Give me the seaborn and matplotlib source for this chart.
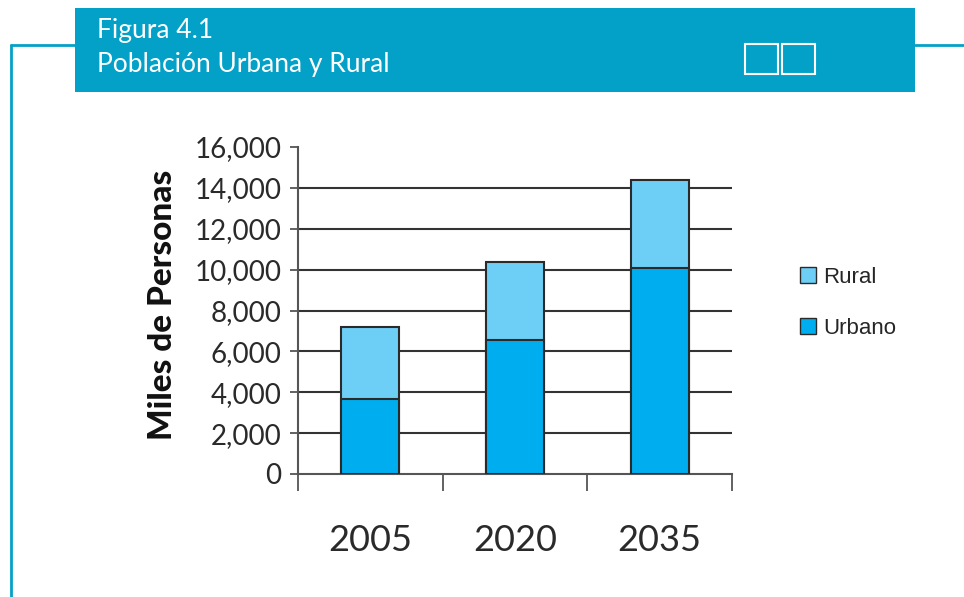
import matplotlib
matplotlib.use('Agg')
import matplotlib.pyplot as plt
from matplotlib.patches import Rectangle, Patch
from matplotlib.lines import Line2D
import seaborn as sns
import pandas as pd

# datos (miles de personas)
anios = ['2005', '2020', '2035']
urbano = [3650, 6550, 10100]
rural = [3550, 3800, 4280]
yticks = [0, 2000, 4000, 6000, 8000, 10000, 12000, 14000, 16000]

COL_URB = '#00AEEF'
COL_RUR = '#6DCFF6'
COL_HEAD = '#03A1C8'
EDGE = '#2a2a2a'

sns.set_theme(style='white')
plt.rcParams['font.family'] = ['Lato', 'DejaVu Sans']

df = pd.DataFrame({'anio': anios, 'Urbano': urbano, 'Rural': rural})
df['Total'] = df['Urbano'] + df['Rural']

fig = plt.figure(figsize=(9.64, 5.97), dpi=100)
ax = fig.add_axes([298 / 964, 1 - 474 / 597, 434 / 964, 327 / 597])

# gridlines first (behind bars)
for v in yticks[1:-1]:
    ax.axhline(v, color='#333333', lw=1.5, zorder=0)

sns.barplot(data=df, x='anio', y='Total', color=COL_RUR, width=0.4,
            edgecolor=EDGE, linewidth=1.5, saturation=1, ax=ax, zorder=2)
sns.barplot(data=df, x='anio', y='Urbano', color=COL_URB, width=0.4,
            edgecolor=EDGE, linewidth=1.5, saturation=1, ax=ax, zorder=3)

ax.set_xlim(-0.5, 2.5)
ax.set_ylim(0, 16000)
ax.set_yticks(yticks)
ax.set_yticklabels([f'{v:,}' for v in yticks], fontsize=20, color='#2a2a2a')
ax.tick_params(axis='y', left=True, length=6, width=1.3, color='#555555', pad=6)

ax.set_xticks(range(len(anios)))
ax.set_xticklabels(anios, fontsize=26, color='#2a2a2a')
ax.set_xticks([-0.5, 0.5, 1.5, 2.5], minor=True)
ax.tick_params(axis='x', which='major', length=0, pad=36)
ax.tick_params(axis='x', which='minor', bottom=True, length=12, width=1.3, color='#555555')

ax.set_xlabel('')
ax.set_ylabel('')
fig.text(162 / 964, 1 - 305 / 597, 'Miles de Personas', rotation=90, ha='center',
         va='center', fontsize=24, fontweight='black', color='#111111')

for s in ['top', 'right']:
    ax.spines[s].set_visible(False)
for s in ['left', 'bottom']:
    ax.spines[s].set_color('#555555')
    ax.spines[s].set_linewidth(1.5)

handles = [Patch(facecolor=COL_RUR, edgecolor=EDGE, label='Rural'),
           Patch(facecolor=COL_URB, edgecolor=EDGE, label='Urbano')]
fig.legend(handles=handles, loc='center left', bbox_to_anchor=(800 / 964, 1 - 303 / 597),
           frameon=False, prop={'family': 'Liberation Sans', 'size': 16},
           handlelength=0.7, handleheight=0.7, handletextpad=0.35, labelspacing=1.35,
           borderpad=0, borderaxespad=0)

# encabezado
fig.patches.append(Rectangle((75 / 964, 1 - 92 / 597), 840 / 964, 84 / 597,
                             transform=fig.transFigure, facecolor=COL_HEAD,
                             edgecolor='none', zorder=1))
for x0 in [745, 782]:
    fig.patches.append(Rectangle((x0 / 964, 1 - 74 / 597), 33 / 964, 30 / 597,
                                 transform=fig.transFigure, facecolor='none',
                                 edgecolor='white', lw=1.5, zorder=2))
fig.text(97 / 964, 1 - 38 / 597, 'Figura 4.1', color='white', fontsize=19,
         va='baseline', ha='left')
fig.text(97 / 964, 1 - 72 / 597, 'Población Urbana y Rural', color='white', fontsize=19,
         va='baseline', ha='left')

# marco
fig.lines.append(Line2D([11 / 964, 75 / 964], [1 - 45 / 597] * 2, transform=fig.transFigure,
                        color=COL_HEAD, lw=2))
fig.lines.append(Line2D([915 / 964, 1], [1 - 45 / 597] * 2, transform=fig.transFigure,
                        color=COL_HEAD, lw=2))
fig.lines.append(Line2D([11 / 964] * 2, [1 - 45 / 597, 0], transform=fig.transFigure,
                        color=COL_HEAD, lw=2))

fig.savefig('out.png', dpi=100)
